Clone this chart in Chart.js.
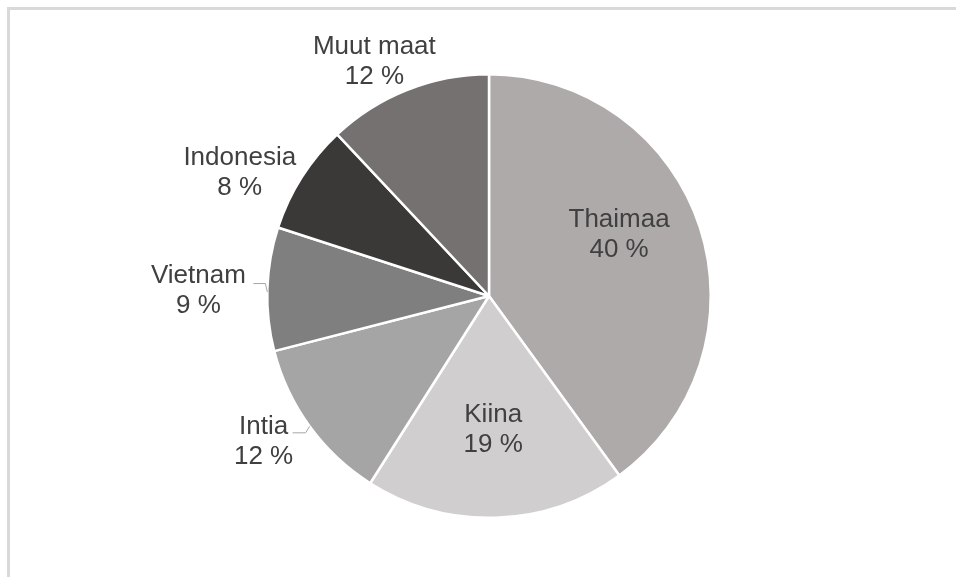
<!DOCTYPE html>
<html><head><meta charset="utf-8">
<script src="https://cdn.jsdelivr.net/npm/chart.js@4"></script>
<style>
html,body{margin:0;padding:0;background:#fff;}
#wrap{position:relative;width:956px;height:577px;overflow:hidden;}
#frame{position:absolute;left:7px;top:7px;width:1000px;height:1000px;border-left:3px solid #d9d9d9;border-top:3px solid #d9d9d9;}
canvas{position:absolute;left:0;top:0;}
</style></head><body>
<div id="wrap"><div id="frame"></div><canvas id="c" width="956" height="577"></canvas></div>
<script>
const categories = ['Thaimaa', 'Kiina', 'Intia', 'Vietnam', 'Indonesia', 'Muut maat'];
const shares = [40, 19, 12, 9, 8, 12];
const sliceColors = ['#aeaaaa', '#d0cece', '#a5a5a5', '#7f7f7f', '#3b3838', '#767171'];

const labelPlacement = [
  {mode: 'in', f: 0.65, dx: -7, dy: -17},
  {mode: 'in', f: 0.6, dx: 0, dy: 1},
  {mode: 'out', dx: -46, dy: 15.5, leader: [[0, 0], [-4, 6.5], [-17, 6.5]]},
  {mode: 'out', dx: -69, dy: 2, leader: [[0, 3], [-2, -5.5], [-14, -5.5]]},
  {mode: 'out', dx: -62, dy: -4},
  {mode: 'out', dx: -33, dy: -28}
];

const labelPlugin = {
  id: 'pieLabels',
  afterDatasetsDraw(chart) {
    const ctx = chart.ctx;
    const meta = chart.getDatasetMeta(0);
    ctx.save();
    meta.data.forEach((arc, i) => {
      const p = arc.getProps(['x', 'y', 'startAngle', 'endAngle', 'outerRadius'], true);
      const mid = (p.startAngle + p.endAngle) / 2;
      const ux = Math.cos(mid), uy = Math.sin(mid);
      const pl = labelPlacement[i];
      let cx, cy;
      if (pl.mode === 'in') {
        cx = p.x + ux * p.outerRadius * pl.f + pl.dx;
        cy = p.y + uy * p.outerRadius * pl.f + pl.dy;
      } else {
        const ex = p.x + ux * p.outerRadius, ey = p.y + uy * p.outerRadius;
        cx = ex + pl.dx; cy = ey + pl.dy;
        if (pl.leader) {
          ctx.strokeStyle = '#a6a6a6';
          ctx.lineWidth = 1;
          ctx.beginPath();
          pl.leader.forEach((pt, k) => {
            if (k === 0) ctx.moveTo(ex + pt[0], ey + pt[1]);
            else ctx.lineTo(ex + pt[0], ey + pt[1]);
          });
          ctx.stroke();
        }
      }
      ctx.fillStyle = '#404040';
      ctx.font = '26px "Liberation Sans", Arial, sans-serif';
      ctx.textAlign = 'center';
      ctx.textBaseline = 'middle';
      ctx.fillText(categories[i], cx, cy - 15);
      ctx.fillText(shares[i] + ' %', cx, cy + 15);
    });
    ctx.restore();
  }
};

new Chart(document.getElementById('c'), {
  type: 'pie',
  data: {
    labels: categories,
    datasets: [{
      data: shares,
      backgroundColor: sliceColors,
      borderColor: '#ffffff',
      borderWidth: 2.5
    }]
  },
  options: {
    responsive: false,
    animation: false,
    layout: {padding: {left: 22, right: 0, top: 73, bottom: 58}},
    plugins: {legend: {display: false}, tooltip: {enabled: false}}
  },
  plugins: [labelPlugin]
});
</script>
</body></html>
